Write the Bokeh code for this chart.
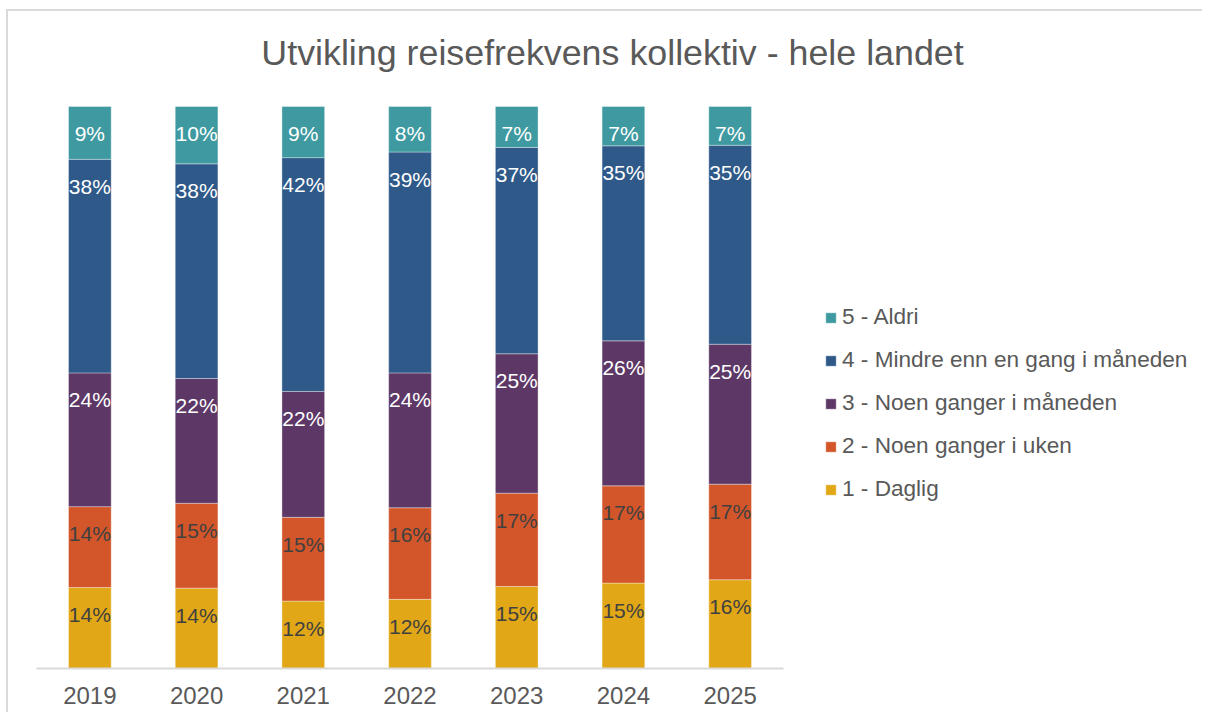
from bokeh.plotting import figure
from bokeh.models import ColumnDataSource, Legend, LegendItem, Range1d, FixedTicker
from bokeh.embed import file_html
from bokeh.resources import INLINE
from bokeh.core.properties import value

years = ["2019", "2020", "2021", "2022", "2023", "2024", "2025"]
categories = ["1 - Daglig", "2 - Noen ganger i uken", "3 - Noen ganger i måneden",
              "4 - Mindre enn en gang i måneden", "5 - Aldri"]
daglig = [14.4, 14.3, 12.0, 12.3, 14.6, 15.2, 15.8]
uke = [14.4, 15.1, 14.9, 16.3, 16.6, 17.3, 17.0]
maaned = [23.8, 22.2, 22.4, 24.0, 24.8, 25.8, 24.9]
mindre = [38.0, 38.2, 41.6, 39.3, 36.7, 34.7, 35.4]
aldri = [9.4, 10.2, 9.1, 8.1, 7.3, 7.0, 6.9]
title_text = "Utvikling reisefrekvens kollektiv - hele landet"

series = [daglig, uke, maaned, mindre, aldri]
colors = ["#E1A716", "#D3562A", "#5D3866", "#2E5988", "#3E9AA0"]
label_colors = ["#404040", "#404040", "white", "white", "white"]
keys = ["s0", "s1", "s2", "s3", "s4"]

FONT = "Liberation Sans, Arial, sans-serif"

# layout (pixels)
CAT_AREA_W = 747     # pixels taken by the 7 year categories
FRAME_W = 1166       # full drawing width (categories + legend area)
BAR_H = 562          # pixels for 100 %
TOP_PAD = 95         # pixels above the 100 % line reserved for the title
PX = 100.0 / BAR_H   # y data units per pixel
n = len(years)
XU = n / CAT_AREA_W  # x data units per pixel

xpos = [i + 0.5 for i in range(n)]

data = {"x": xpos}
for k, s in zip(keys, series):
    data[k] = s
src = ColumnDataSource(data)

p = figure(x_range=Range1d(0, FRAME_W * XU),
           y_range=Range1d(0, 100 + TOP_PAD * PX),
           frame_width=FRAME_W, frame_height=BAR_H + TOP_PAD,
           output_backend="svg", toolbar_location=None,
           min_border_left=28, min_border_right=0, min_border_top=0, min_border_bottom=44)
p.styles = {"border-top": "2px solid #d9d9d9", "border-left": "2px solid #d9d9d9",
            "margin-left": "6px", "margin-top": "9px"}

renderers = p.vbar_stack(keys, x="x", width=0.4, source=src, color=colors,
                         line_color="white", line_width=0.7, line_alpha=0.5)

# data labels, 27 px below the top of each segment
cum = [0.0] * n
for s, lc in zip(series, label_colors):
    tops = [c + v for c, v in zip(cum, s)]
    ly = [t - 27 * PX for t in tops]
    txt = [f"{round(v):.0f}%" for v in s]
    lsrc = ColumnDataSource({"x": xpos, "y": ly, "t": txt})
    p.text(x="x", y="y", text="t", source=lsrc, text_align="center", text_baseline="middle",
           text_color=lc, text_font=value(FONT), text_font_size="21px")
    cum = tops

# title
tsrc = ColumnDataSource({"x": [576 * XU], "y": [100 + 54 * PX], "t": [title_text]})
p.text(x="x", y="y", text="t", source=tsrc, text_align="center",
       text_baseline="alphabetic", text_color="#595959", text_font=value(FONT),
       text_font_size="35.8px")

items = [LegendItem(label=c, renderers=[r]) for c, r in zip(categories, renderers)][::-1]
legend = Legend(items=items, location=(788, 166), orientation="vertical",
                glyph_width=13, glyph_height=13, label_standoff=5, spacing=17,
                label_height=26, label_text_font=FONT, label_text_font_size="22.6px",
                label_text_color="#595959", border_line_color=None, background_fill_alpha=0,
                padding=0, margin=0)
p.add_layout(legend, "center")

p.yaxis.visible = False
p.xgrid.grid_line_color = None
p.ygrid.grid_line_color = None
p.outline_line_color = None
p.xaxis.bounds = (0, n)
p.xaxis.ticker = FixedTicker(ticks=xpos)
p.xaxis.major_label_overrides = {x: y for x, y in zip(xpos, years)}
p.xaxis.axis_line_color = "#d9d9d9"
p.xaxis.axis_line_width = 2
p.xaxis.major_tick_line_color = None
p.xaxis.minor_tick_line_color = None
p.xaxis.major_label_text_font = FONT
p.xaxis.major_label_text_font_size = "24px"
p.xaxis.major_label_text_color = "#595959"
p.xaxis.major_label_standoff = 12

open("out.html", "w").write(file_html(p, INLINE))
